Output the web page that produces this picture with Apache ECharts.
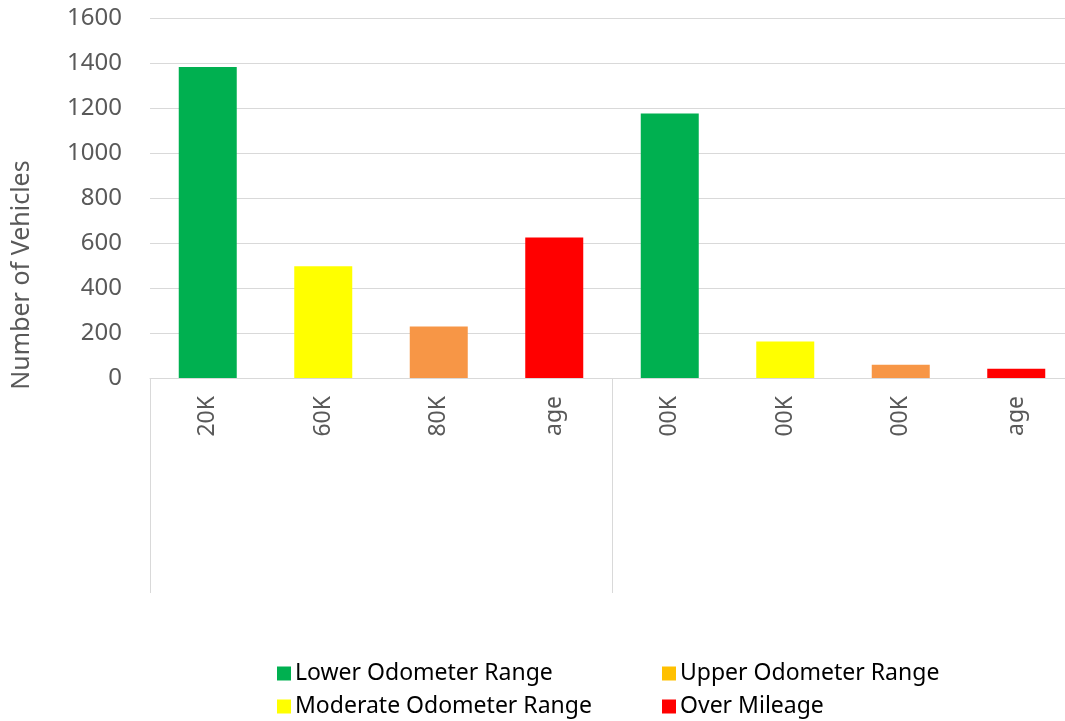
<!DOCTYPE html>
<html>
<head>
<meta charset="utf-8">
<script src="https://cdn.jsdelivr.net/npm/echarts@6/dist/echarts.min.js"></script>
<style>
  html, body { margin: 0; padding: 0; background: #fff; }
  #chart { width: 1065px; height: 721px; }
</style>
</head>
<body>
<div id="chart"></div>
<script>
// Odometer bands, shown truncated as in the source workbook
const categories = ['20K', '60K', '80K', 'age', '00K', '00K', '00K', 'age'];

// Vehicle counts per band (null where a series has no bar)
const lowerRange    = [1382, null, null, null, 1176, null, null, null];
const moderateRange = [null, 497, null, null, null, 162, null, null];
const upperRange    = [null, null, 229, null, null, null, 59, null];
const overMileage   = [null, null, null, 624, null, null, null, 41];

const yTicks = { min: 0, max: 1600, interval: 200 };

const seriesNames = ['Lower Odometer Range', 'Upper Odometer Range', 'Moderate Odometer Range', 'Over Mileage'];

const FONT = 'Noto Sans';

function barSeries(name, values, color, pointColor) {
  return {
    name: name,
    type: 'bar',
    stack: 'bands',
    barWidth: 58,
    itemStyle: { color: color },
    data: values.map(v => (v === null ? null :
      (pointColor ? { value: v, itemStyle: { color: pointColor } } : v)))
  };
}

// one legend block per entry, laid out as a 2x2 table
function legendEntry(name, left, top) {
  return {
    data: [name],
    left: left,
    top: top,
    padding: 0,
    icon: 'rect',
    itemWidth: 14,
    itemHeight: 14,
    itemGap: 0,
    textStyle: { fontSize: 23, fontFamily: FONT, color: '#000000', padding: [0, 0, 0, -1] },
    selectedMode: false
  };
}

const chart = echarts.init(document.getElementById('chart'), null, { renderer: 'canvas' });

chart.setOption({
  animation: false,
  backgroundColor: '#ffffff',
  textStyle: { fontFamily: FONT },
  grid: { left: 150, top: 18, width: 924, height: 360, containLabel: false, outerBoundsMode: 'none' },
  xAxis: {
    type: 'category',
    data: categories,
    boundaryGap: true,
    axisLine: { show: true, lineStyle: { color: '#D9D9D9', width: 1 } },
    axisTick: {
      show: true,
      length: 215,
      interval: (index) => index % 4 === 0,
      lineStyle: { color: '#D9D9D9', width: 1 }
    },
    axisLabel: {
      interval: 0,
      rotate: 90,
      margin: 18,
      fontSize: 23,
      fontFamily: FONT,
      color: '#595959'
    },
    splitLine: { show: false }
  },
  yAxis: {
    type: 'value',
    min: yTicks.min,
    max: yTicks.max,
    interval: yTicks.interval,
    axisLine: { show: false },
    axisTick: { show: false },
    axisLabel: {
      margin: 28, fontSize: 24, fontFamily: FONT, color: '#595959',
      formatter: (v) => String(v)
    },
    splitLine: { lineStyle: { color: '#D9D9D9', width: 1 } }
  },
  legend: [
    legendEntry(seriesNames[0], 277, 662),
    legendEntry(seriesNames[2], 277, 695),
    legendEntry(seriesNames[1], 662, 662),
    legendEntry(seriesNames[3], 662, 695)
  ],
  graphic: [
    {
      type: 'text',
      x: 22,
      y: 275,
      rotation: Math.PI / 2,
      style: {
        text: 'Number of Vehicles',
        fontSize: 25,
        fontFamily: FONT,
        fill: '#595959',
        align: 'center',
        verticalAlign: 'middle'
      }
    }
  ],
  series: [
    barSeries(seriesNames[0], lowerRange, '#00B050'),
    barSeries(seriesNames[1], upperRange, '#FFC000', '#F79646'),
    barSeries(seriesNames[2], moderateRange, '#FFFF00'),
    barSeries(seriesNames[3], overMileage, '#FF0000')
  ]
});
</script>
</body>
</html>
